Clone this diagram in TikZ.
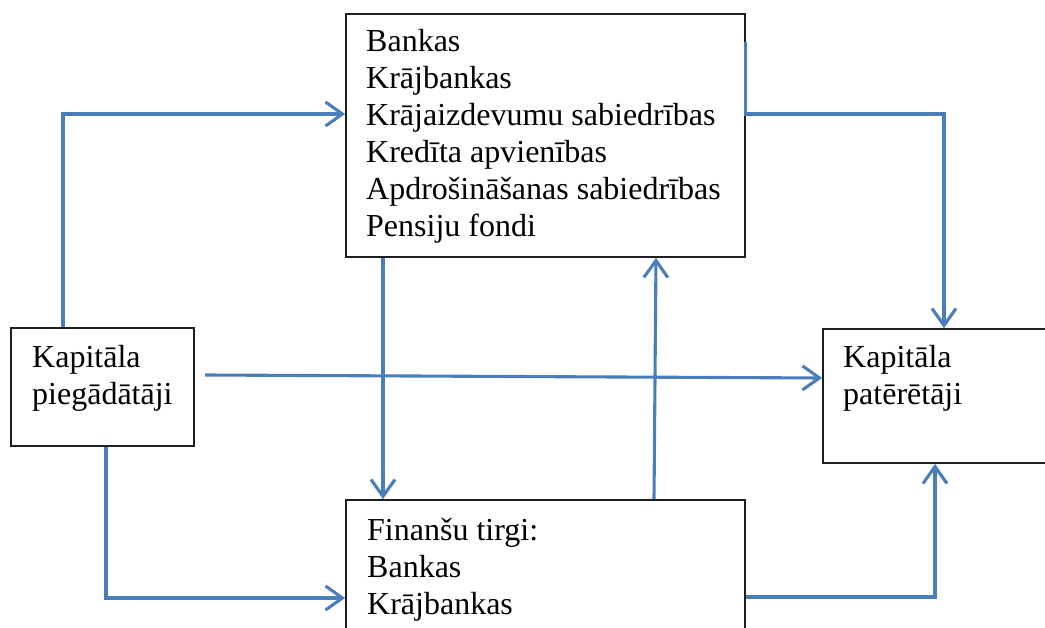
\documentclass[tikz,border=0pt]{standalone}
\usepackage{fontspec}
\setmainfont{Liberation Serif}
\usetikzlibrary{arrows.meta}
\definecolor{lineblue}{RGB}{74,126,187}
\definecolor{boxgray}{RGB}{30,30,30}
\tikzset{
  box/.style={draw=boxgray, line width=1.7pt, rectangle, inner sep=0pt},
  txt/.style={anchor=base west, align=left, inner sep=0pt, font=\fontsize{32}{37}\selectfont},
  conn/.style={draw=lineblue, line width=3.1pt},
  arr/.style={conn, -{Straight Barb[length=17pt,width=24pt,line width=3.1pt]}}
}
\begin{document}
\begin{tikzpicture}[x=1pt,y=-1pt]
\useasboundingbox (0,0) rectangle (1045,628);
\clip (0,0) rectangle (1045,628);
% boxes
\node[box, minimum width=399pt, minimum height=243pt] (T) at (545.5,135.5) {};
\node[box, minimum width=183pt, minimum height=118pt] (L) at (102.5,387) {};
\node[box, minimum width=260pt, minimum height=134pt] (R) at (953,396) {};
\node[box, minimum width=399pt, minimum height=200pt] (B) at (545.5,600) {};
% texts (anchored at the baseline of the last line)
\node[txt] (Tt) at (366,237) {Bankas\\Krājbankas\\Krājaizdevumu sabiedrības\\Kredīta apvienības\\Apdrošināšanas sabiedrības\\Pensiju fondi};
\node[txt] (Lt) at (32,405) {Kapitāla\\piegādātāji};
\node[txt] (Rt) at (843,405) {Kapitāla\\patērētāji};
\node[txt] (Bt) at (367,614) {Finanšu tirgi:\\Bankas\\Krājbankas};
% connectors
\coordinate (s5) at (205,375);
\draw[arr] (L.north -| 63,0) |- (T.west |- 0,114);
\draw[arr] (T.east |- 0,42) -- (T.east |- 0,114) -| (R.north -| 944,0);
\draw[arr] (T.south -| 383,0) -- (B.north -| 383,0);
\draw[arr] (B.north -| 654,0) -- (T.south -| 656,0);
\draw[arr] (s5) -- (R.west |- 0,378);
\draw[arr] (L.south -| 106,0) |- (B.west |- 0,598);
\draw[arr] (B.east |- 0,597) -| (R.south -| 935,0);
\end{tikzpicture}
\end{document}
